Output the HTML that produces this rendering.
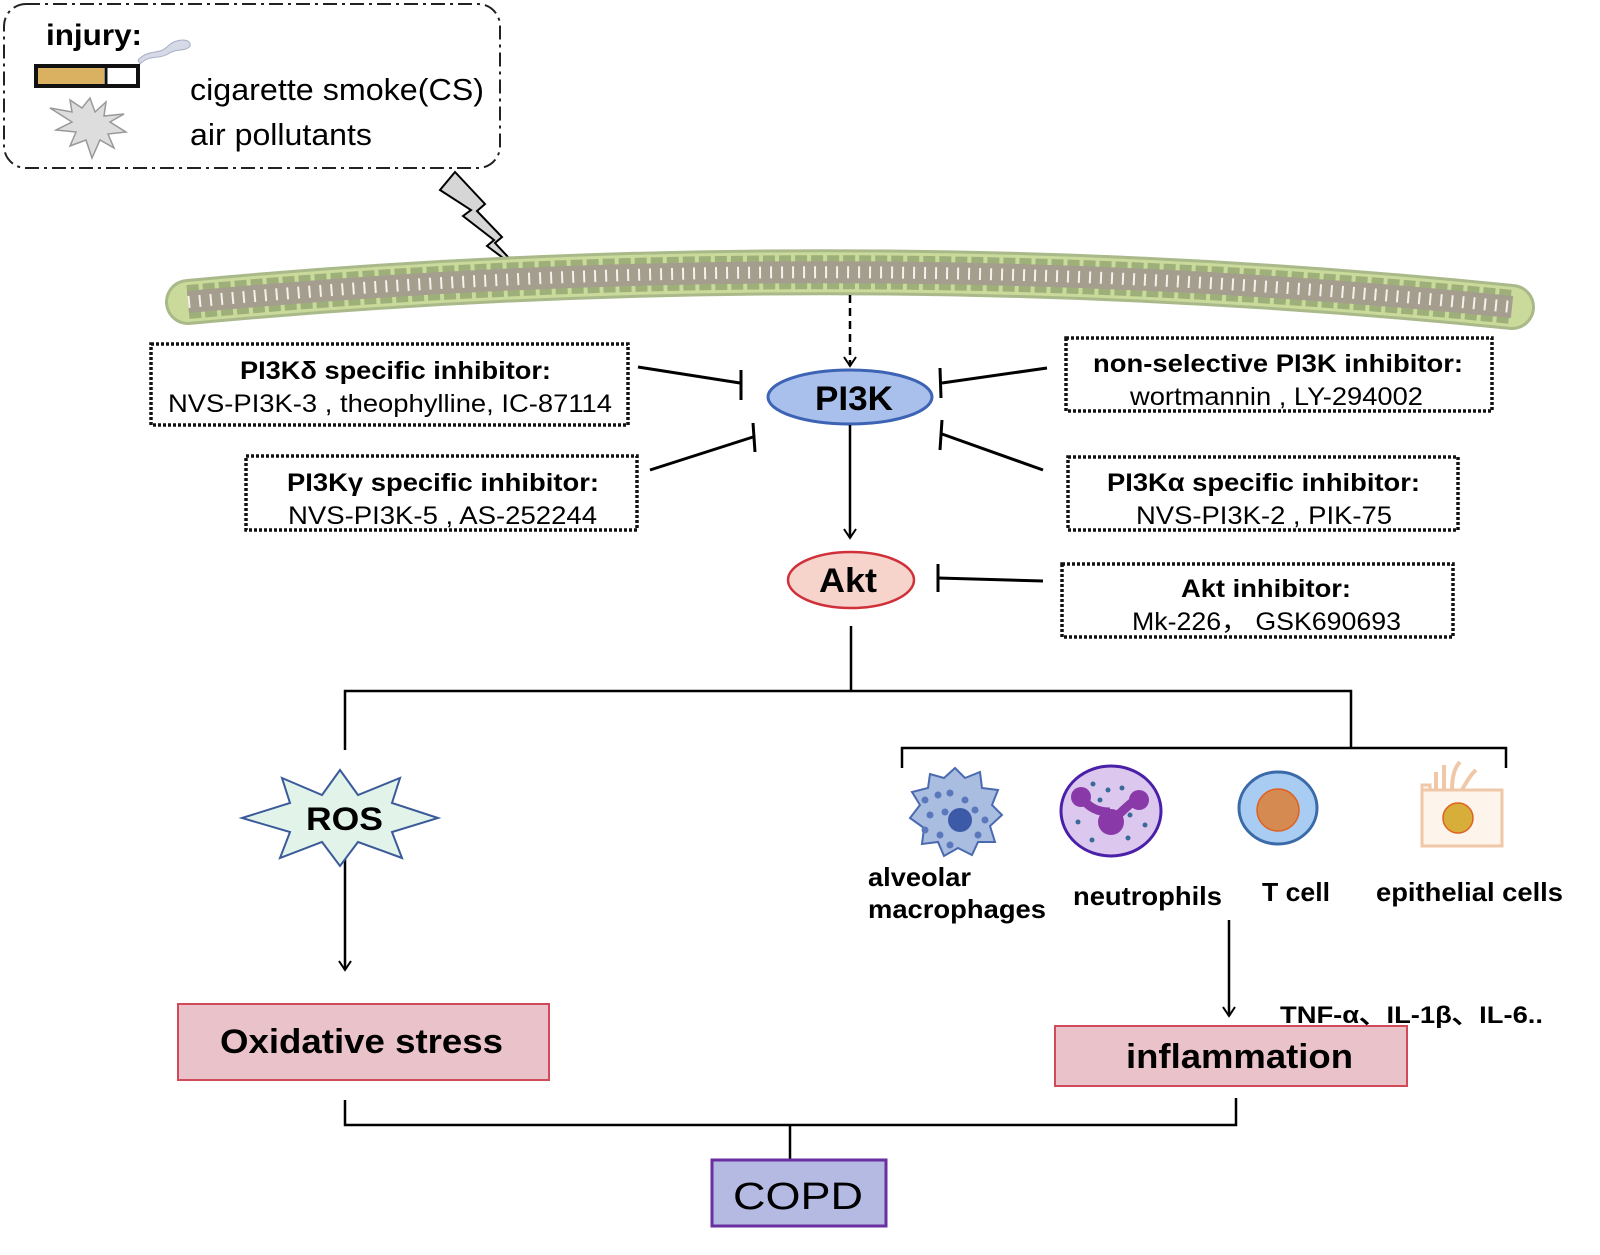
<!DOCTYPE html>
<html><head><meta charset="utf-8"><style>
html,body{margin:0;padding:0;background:#fff}
svg{display:block}
text{font-family:"Liberation Sans",Arial,sans-serif}
.b{font-weight:bold}
</style></head><body>
<svg width="1600" height="1255" viewBox="0 0 1600 1255" xmlns="http://www.w3.org/2000/svg">
<defs>
<marker id="ah" markerWidth="14" markerHeight="14" refX="10" refY="7" orient="auto" markerUnits="userSpaceOnUse">
<path d="M1,1 L10,7 L1,13" fill="none" stroke="#000" stroke-width="2"/>
</marker>
</defs>
<!-- injury box -->
<rect x="4" y="4" width="496" height="164" rx="22" fill="#fff" stroke="#222" stroke-width="2" stroke-dasharray="14,5,3,5"/>
<text x="46" y="45" class="b" font-size="30" textLength="96" lengthAdjust="spacingAndGlyphs">injury:</text>
<path d="M138,60 C150,48 158,56 168,46 C176,38 192,38 190,46 C186,52 176,48 168,54 C158,60 150,54 140,64Z" fill="#d6dae6" stroke="#a8b0c8"/>
<rect x="36" y="66" width="102" height="20" fill="#fff" stroke="#111" stroke-width="4"/>
<rect x="38" y="68" width="66" height="16" fill="#d9b160"/>
<line x1="106" y1="66" x2="106" y2="86" stroke="#111" stroke-width="3"/>
<polygon points="90,98 95,112 106,102 104,116 124,114 110,122 126,132 108,134 114,148 100,140 92,158 86,140 70,146 76,132 56,130 72,122 50,108 72,112 70,100 82,108" fill="#ddd" stroke="#999" stroke-width="1.5"/>
<text x="190" y="100" font-size="31" textLength="294" lengthAdjust="spacingAndGlyphs">cigarette smoke(CS)</text>
<text x="190" y="145" font-size="31" textLength="182" lengthAdjust="spacingAndGlyphs">air pollutants</text>
<!-- lightning -->
<polygon points="440,190 455,172 485,204 477,211 502,237 495,243 522,272 487,246 494,240 463,216 471,210" fill="#d6d6d6" stroke="#000" stroke-width="2"/>
<!-- membrane -->
<path d="M188,302 Q850,240 1512,307" fill="none" stroke="#a9b98a" stroke-width="46" stroke-linecap="round"/>
<path d="M188,302 Q850,240 1512,307" fill="none" stroke="#c9da9a" stroke-width="40" stroke-linecap="round"/>
<path d="M188,302 Q850,240 1512,307" fill="none" stroke="#9db07a" stroke-width="34" stroke-dasharray="12,4"/>
<path d="M188,302 Q850,240 1512,307" fill="none" stroke="#a59d8e" stroke-width="22"/>
<path d="M188,302 Q850,240 1512,307" fill="none" stroke="#f4f2ea" stroke-width="12" stroke-dasharray="2,9"/>
<!-- PI3K -->
<line x1="850" y1="295" x2="850" y2="366" stroke="#000" stroke-width="2.5" stroke-dasharray="8,5" marker-end="url(#ah)"/>
<ellipse cx="850" cy="397" rx="82" ry="27" fill="#a9c0ec" stroke="#3d63b5" stroke-width="3"/>
<text x="815" y="410" class="b" font-size="34" textLength="78" lengthAdjust="spacingAndGlyphs">PI3K</text>
<line x1="850" y1="425" x2="850" y2="538" stroke="#000" stroke-width="2.5" marker-end="url(#ah)"/>
<ellipse cx="851" cy="580" rx="63" ry="28" fill="#f6d4cc" stroke="#d0303a" stroke-width="2.5"/>
<text x="819" y="592" class="b" font-size="34" textLength="58" lengthAdjust="spacingAndGlyphs">Akt</text>
<!-- inhibitor boxes -->
<g fill="none" stroke="#111" stroke-width="3.5" stroke-dasharray="3,2">
<rect x="151" y="344" width="477" height="81"/>
<rect x="246" y="456" width="391" height="74"/>
<rect x="1066" y="338" width="426" height="73"/>
<rect x="1068" y="457" width="390" height="73"/>
<rect x="1062" y="564" width="391" height="73"/>
</g>
<g font-size="25">
<text x="240" y="379" class="b" textLength="311" lengthAdjust="spacingAndGlyphs">PI3Kδ specific inhibitor:</text>
<text x="168" y="412" textLength="444" lengthAdjust="spacingAndGlyphs">NVS-PI3K-3 , theophylline, IC-87114</text>
<text x="287" y="491" class="b" textLength="312" lengthAdjust="spacingAndGlyphs">PI3Kγ specific inhibitor:</text>
<text x="288" y="524" textLength="309" lengthAdjust="spacingAndGlyphs">NVS-PI3K-5 , AS-252244</text>
<text x="1093" y="372" class="b" textLength="370" lengthAdjust="spacingAndGlyphs">non-selective PI3K inhibitor:</text>
<text x="1130" y="405" textLength="293" lengthAdjust="spacingAndGlyphs">wortmannin , LY-294002</text>
<text x="1107" y="491" class="b" textLength="313" lengthAdjust="spacingAndGlyphs">PI3Kα specific inhibitor:</text>
<text x="1136" y="524" textLength="256" lengthAdjust="spacingAndGlyphs">NVS-PI3K-2 , PIK-75</text>
<text x="1181" y="597" class="b" textLength="170" lengthAdjust="spacingAndGlyphs">Akt inhibitor:</text>
<text x="1132" y="630" textLength="269" lengthAdjust="spacingAndGlyphs">Mk-226， GSK690693</text>
</g>
<!-- inhibition lines -->
<g stroke="#000" stroke-width="3" fill="none">
<line x1="638" y1="367" x2="740" y2="383"/><line x1="741" y1="370" x2="741" y2="400"/>
<line x1="650" y1="470" x2="753" y2="437"/><line x1="753" y1="423" x2="755" y2="452"/>
<line x1="1047" y1="368" x2="942" y2="383"/><line x1="940" y1="368" x2="941" y2="398"/>
<line x1="1043" y1="470" x2="942" y2="434"/><line x1="942" y1="420" x2="940" y2="450"/>
<line x1="1043" y1="581" x2="938" y2="578"/><line x1="938" y1="564" x2="938" y2="592"/>
</g>
<!-- tree -->
<g stroke="#000" stroke-width="2.5" fill="none">
<path d="M851,626 V691"/>
<path d="M345,750 V691 H1351 V748"/>
<path d="M902,768 V748 H1506 V768"/>
<path d="M345,1100 V1125 H1236 V1098"/>
<path d="M790,1125 V1160"/>
</g>
<line x1="345" y1="846" x2="345" y2="970" stroke="#000" stroke-width="2.5" marker-end="url(#ah)"/>
<line x1="1229" y1="920" x2="1229" y2="1016" stroke="#000" stroke-width="2.5" marker-end="url(#ah)"/>
<!-- ROS -->
<polygon points="340,770 358,795 400,778 392,803 438,818 392,832 402,858 358,842 340,866 322,842 280,858 290,832 242,818 290,803 282,778 322,795" fill="#e2f3ea" stroke="#3a5a9a" stroke-width="2"/>
<text x="306" y="830" class="b" font-size="32" textLength="77" lengthAdjust="spacingAndGlyphs">ROS</text>
<rect x="178" y="1004" width="371" height="76" fill="#eac2c9" stroke="#d04a5a" stroke-width="2"/>
<text x="220" y="1053" class="b" font-size="34" textLength="283" lengthAdjust="spacingAndGlyphs">Oxidative stress</text>
<rect x="1055" y="1026" width="352" height="60" fill="#eac2c9" stroke="#d04a5a" stroke-width="2"/>
<text x="1126" y="1068" class="b" font-size="34" textLength="227" lengthAdjust="spacingAndGlyphs">inflammation</text>
<text x="1280" y="1023" class="b" font-size="24" textLength="263" lengthAdjust="spacingAndGlyphs">TNF-α、IL-1β、IL-6..</text>
<rect x="712" y="1160" width="174" height="66" fill="#b4bae2" stroke="#6a2fa0" stroke-width="3"/>
<text x="733" y="1209" font-size="38" textLength="130" lengthAdjust="spacingAndGlyphs">COPD</text>
<!-- cells -->
<polygon points="955,768 965,778 980,772 982,788 998,790 992,805 1002,815 990,826 995,842 978,842 972,855 958,848 944,856 938,842 922,844 924,828 910,818 920,805 912,792 928,788 930,774 944,778" fill="#a9bde0" stroke="#4a6ab0" stroke-width="2"/>
<circle cx="960" cy="820" r="12" fill="#3d5aa8"/>
<g fill="#5a78bb"><circle cx="925" cy="800" r="3.5"/><circle cx="938" cy="795" r="3.5"/><circle cx="950" cy="793" r="3.5"/><circle cx="965" cy="800" r="3.5"/><circle cx="930" cy="815" r="3.5"/><circle cx="945" cy="812" r="3.5"/><circle cx="975" cy="810" r="3.5"/><circle cx="925" cy="830" r="3.5"/><circle cx="940" cy="835" r="3.5"/><circle cx="978" cy="835" r="3.5"/><circle cx="950" cy="845" r="3.5"/><circle cx="985" cy="820" r="3.5"/></g>
<ellipse cx="1111" cy="811" rx="50" ry="45" fill="#dcc8ee" stroke="#4a20a8" stroke-width="3"/>
<path d="M1083,799 Q1092,812 1110,812 M1110,823 Q1125,808 1135,800" stroke="#8a3aa8" stroke-width="9" fill="none"/>
<circle cx="1081" cy="797" r="10" fill="#8a3aa8"/><circle cx="1111" cy="822" r="13" fill="#8a3aa8"/><circle cx="1139" cy="800" r="10" fill="#8a3aa8"/>
<g fill="#3a6a9a"><circle cx="1093" cy="784" r="2.5"/><circle cx="1108" cy="790" r="2.5"/><circle cx="1122" cy="788" r="2.5"/><circle cx="1100" cy="800" r="2.5"/><circle cx="1130" cy="815" r="2.5"/><circle cx="1078" cy="822" r="2.5"/><circle cx="1092" cy="840" r="2.5"/><circle cx="1128" cy="838" r="2.5"/><circle cx="1145" cy="825" r="2.5"/></g>
<ellipse cx="1278" cy="808" rx="39" ry="36" fill="#a9cdf2" stroke="#3a6aa8" stroke-width="3"/>
<circle cx="1278" cy="810" r="21" fill="#d48a50" stroke="#e06020" stroke-width="1.5"/>
<path d="M1422,790 V785 H1430 V790 M1422,790 H1502 V846 H1422Z" fill="#fdf4ec" stroke="#f0c8a8" stroke-width="3"/>
<path d="M1436,790 V772 M1444,790 V765 M1452,790 Q1452,770 1460,762 M1462,790 Q1470,775 1476,770" stroke="#f0c8a8" stroke-width="4" fill="none"/>
<circle cx="1458" cy="818" r="15" fill="#d8ae3a" stroke="#e06020" stroke-width="1.5"/>
<g class="b" font-size="26">
<text x="868" y="886" textLength="103" lengthAdjust="spacingAndGlyphs">alveolar</text>
<text x="868" y="918" textLength="178" lengthAdjust="spacingAndGlyphs">macrophages</text>
<text x="1073" y="905" textLength="149" lengthAdjust="spacingAndGlyphs">neutrophils</text>
<text x="1262" y="901" textLength="68" lengthAdjust="spacingAndGlyphs">T cell</text>
<text x="1376" y="901" textLength="187" lengthAdjust="spacingAndGlyphs">epithelial cells</text>
</g>
</svg>
</body></html>
